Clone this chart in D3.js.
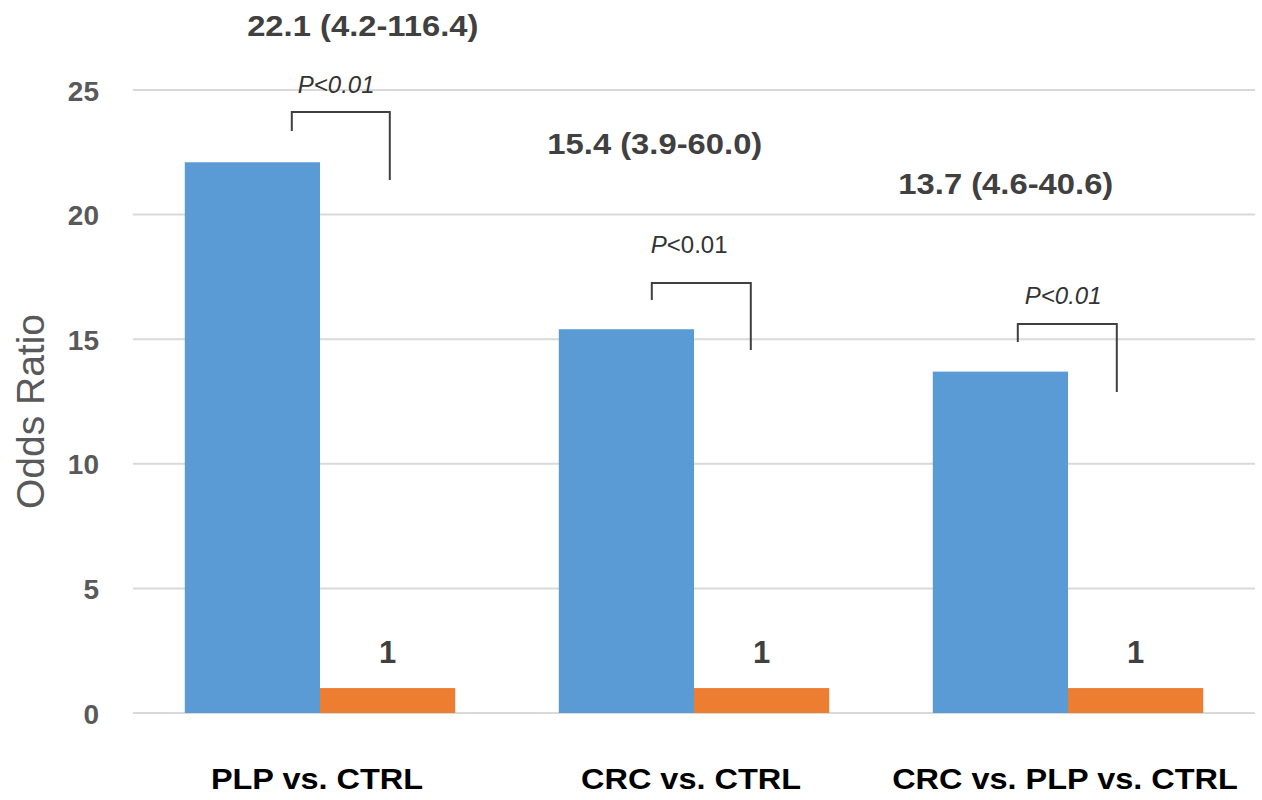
<!DOCTYPE html>
<html>
<head>
<meta charset="utf-8">
<script src="https://cdn.jsdelivr.net/npm/d3@7"></script>
<style>
  html, body { margin: 0; padding: 0; background: #fff; }
  svg { display: block; }
  text { font-family: "Liberation Sans", Arial, sans-serif; }
</style>
</head>
<body>
<svg id="chart" width="1262" height="800"></svg>
<script>
// ---- data ----
const categories = ["PLP vs. CTRL", "CRC vs. CTRL", "CRC vs. PLP vs. CTRL"];
const seriesNames = ["case", "reference"];
const caseValues = [22.1, 15.4, 13.7];
const referenceValues = [1, 1, 1];
const orLabels = ["22.1 (4.2-116.4)", "15.4 (3.9-60.0)", "13.7 (4.6-40.6)"];
const refLabels = ["1", "1", "1"];
const pLabels = ["P<0.01", "P<0.01", "P<0.01"];
const yTicks = [0, 5, 10, 15, 20, 25];

// ---- layout / style ----
const colors = { case: "#5b9bd5", reference: "#ed7d31" };
const plot = { left: 133, right: 1255, top: 90, bottom: 713 };
// hand-placed annotation offsets (px) relative to each group's start
const annot = [
  { lx: 178, ly: 36,  px: 113, py: 93,  pItalicAll: true,  bl: 107, br: 205, bt: 112, blb: 131, brb: 180 },
  { lx: 96,  ly: 154, px: 92,  py: 253, pItalicAll: false, bl: 93,  br: 192, bt: 283, blb: 300, brb: 350 },
  { lx: 73,  ly: 194, px: 92,  py: 304, pItalicAll: true,  bl: 85,  br: 184, bt: 324, blb: 342, brb: 392 }
];

const svg = d3.select("#chart");

const x0 = d3.scaleBand().domain(categories).range([plot.left, plot.right])
  .paddingInner(0.277).paddingOuter(0.1385);
const x1 = d3.scaleBand().domain(seriesNames).range([0, x0.bandwidth()]).padding(0);
const y = d3.scaleLinear().domain([0, 25]).range([plot.bottom, plot.top]);

// gridlines
svg.append("g").selectAll("line").data(yTicks).join("line")
  .attr("x1", plot.left).attr("x2", plot.right)
  .attr("y1", d => y(d)).attr("y2", d => y(d))
  .attr("stroke", "#d9d9d9").attr("stroke-width", 2);

// y axis labels
const yAxis = d3.axisLeft(y).tickValues(yTicks).tickSize(0).tickPadding(0);
const yg = svg.append("g").attr("transform", `translate(99,0)`).call(yAxis);
yg.select(".domain").remove();
yg.selectAll("text")
  .attr("fill", "#595959").attr("font-size", 28).attr("font-weight", "bold")
  .attr("font-family", "'Liberation Sans', Arial, sans-serif")
  .attr("dy", "0.36em");

// y title
svg.append("text")
  .attr("transform", `translate(44,${(plot.top + plot.bottom) / 2 + 10}) rotate(-90)`)
  .attr("text-anchor", "middle").attr("font-size", 39).attr("fill", "#595959")
  .text("Odds Ratio");

// bars
const rows = categories.map((c, i) => ({ cat: c, vals: [
  { key: "case", v: caseValues[i] }, { key: "reference", v: referenceValues[i] } ] }));

const grp = svg.append("g").selectAll("g").data(rows).join("g")
  .attr("transform", d => `translate(${x0(d.cat)},0)`);
grp.selectAll("rect").data(d => d.vals).join("rect")
  .attr("x", d => x1(d.key)).attr("width", x1.bandwidth())
  .attr("y", d => y(d.v)).attr("height", d => y(0) - y(d.v))
  .attr("fill", d => colors[d.key]);

// reference "1" labels
grp.append("text")
  .attr("x", x1("reference") + x1.bandwidth() / 2)
  .attr("y", (d, i) => y(referenceValues[i]) - 25)
  .attr("text-anchor", "middle").attr("font-size", 31).attr("font-weight", "bold")
  .attr("fill", "#404040")
  .text((d, i) => refLabels[i]);

// OR labels
grp.append("text")
  .attr("transform", (d, i) => `translate(${annot[i].lx},${annot[i].ly}) scale(1.13,1)`)
  .attr("text-anchor", "middle").attr("font-size", 29).attr("font-weight", "bold")
  .attr("fill", "#404040")
  .text((d, i) => orLabels[i]);

// P labels
grp.each(function(d, i) {
  const a = annot[i];
  const t = d3.select(this).append("text")
    .attr("x", a.px).attr("y", a.py).attr("font-size", 24).attr("fill", "#333");
  const s = pLabels[i];
  if (a.pItalicAll) {
    t.attr("font-style", "italic").text(s);
  } else {
    t.append("tspan").attr("font-style", "italic").text(s[0]);
    t.append("tspan").text(s.slice(1));
  }
  d3.select(this).append("path")
    .attr("d", `M${a.bl},${a.blb}V${a.bt}H${a.br}V${a.brb}`)
    .attr("fill", "none").attr("stroke", "#404040").attr("stroke-width", 2);
});

// x labels
svg.append("g").selectAll("text").data(categories).join("text")
  .attr("transform", d => `translate(${x0(d) + x0.bandwidth() / 2 - 3},789) scale(1.12,1)`)
  .attr("text-anchor", "middle").attr("font-size", 29).attr("font-weight", "bold")
  .attr("fill", "#000")
  .text(d => d);
</script>
</body>
</html>
